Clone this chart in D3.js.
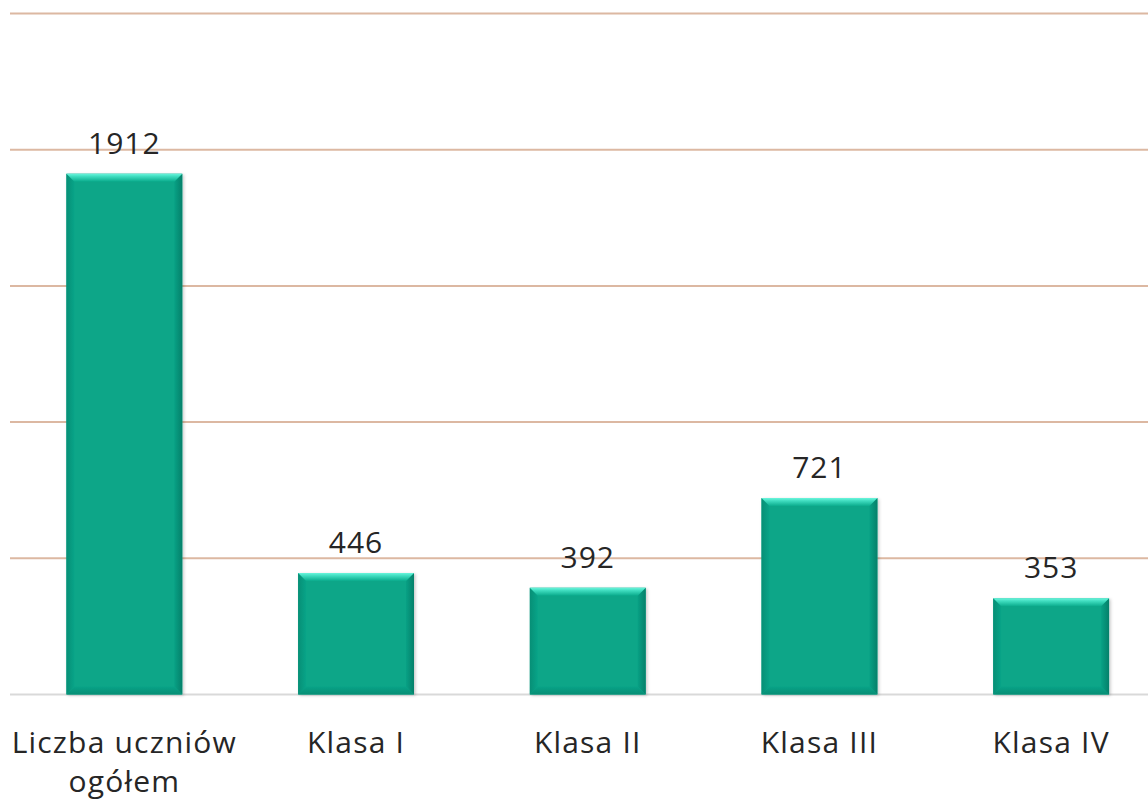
<!DOCTYPE html>
<html><head><meta charset="utf-8">
<script src="https://cdn.jsdelivr.net/npm/d3@7/dist/d3.min.js"></script>
<style>
html,body{margin:0;padding:0;background:#fff;}
svg{display:block;}
text{font-family:"Open Sans",sans-serif;fill:#262626;}
</style></head>
<body>
<svg id="chart" width="1148" height="804"></svg>
<script>
const categories = [["Liczba uczniów","ogółem"],["Klasa I"],["Klasa II"],["Klasa III"],["Klasa IV"]];
const values = [1912, 446, 392, 721, 353];
const yTicks = [0, 500, 1000, 1500, 2000, 2500];

const W = 1148, H = 804;
const svg = d3.select("#chart");
const x = d3.scaleBand().domain(d3.range(categories.length)).range([8.5, 1167]).paddingInner(0.5).paddingOuter(0.25);
const y = d3.scaleLinear().domain([0, 2500]).range([694.5, 13.5]);

const defs = svg.append("defs");
const f = defs.append("filter").attr("id","sh").attr("x","-10%").attr("y","-10%").attr("width","130%").attr("height","130%");
f.append("feDropShadow").attr("dx",1.5).attr("dy",1).attr("stdDeviation",1.5).attr("flood-color","#000").attr("flood-opacity",0.22);

function grad(id, x1,y1,x2,y2, stops){
  const g = defs.append("linearGradient").attr("id",id).attr("x1",x1).attr("y1",y1).attr("x2",x2).attr("y2",y2);
  stops.forEach(s=>g.append("stop").attr("offset",s[0]).attr("stop-color",s[1]).attr("stop-opacity",s[2]));
}
grad("gTop",0,0,0,1,[[0,"#6af5dc",1],[0.35,"#3fdcbf",1],[1,"#0aab8c",1]]);
grad("gLeft",0,0,1,0,[[0,"#078f76",1],[1,"#08a488",1]]);
grad("gRight",1,0,0,0,[[0,"#05806a",1],[1,"#08a185",1]]);
grad("gBot",0,1,0,0,[[0,"#078e75",1],[1,"#08a387",1]]);

// gridlines
svg.append("g").selectAll("line").data(yTicks.filter(d=>d>0)).join("line")
  .attr("x1",10).attr("x2",W).attr("y1",d=>y(d)).attr("y2",d=>y(d))
  .attr("stroke","#dcb8a2").attr("stroke-width",2);
// baseline
svg.append("line").attr("x1",10).attr("x2",W).attr("y1",y(0)).attr("y2",y(0))
  .attr("stroke","#d9d9d9").attr("stroke-width",2);

const bw = x.bandwidth(), b = 8;
const bars = svg.append("g").selectAll("g").data(values).join("g")
  .attr("transform",(d,i)=>`translate(${x(i)},${y(d)})`);
bars.each(function(d){
  const g = d3.select(this);
  const h = y(0) - y(d);
  g.append("rect").attr("width",bw).attr("height",h).attr("fill","#08a688").attr("filter","url(#sh)");
  g.append("path").attr("d",`M0,0 L${b},${b} L${b},${h-b} L0,${h} Z`).attr("fill","url(#gLeft)");
  g.append("path").attr("d",`M${bw},0 L${bw-b},${b} L${bw-b},${h-b} L${bw},${h} Z`).attr("fill","url(#gRight)");
  g.append("path").attr("d",`M0,${h} L${b},${h-b} L${bw-b},${h-b} L${bw},${h} Z`).attr("fill","url(#gBot)");
  g.append("path").attr("d",`M0,0 L${bw},0 L${bw-b},${b} L${b},${b} Z`).attr("fill","url(#gTop)");
});

// value labels
svg.append("g").selectAll("text").data(values).join("text")
  .attr("x",(d,i)=>x(i)+bw/2).attr("y",d=>y(d)-20)
  .attr("text-anchor","middle").attr("font-size",30).attr("letter-spacing",1).text(d=>d);

// category labels
const cl = svg.append("g").selectAll("text").data(categories).join("text")
  .attr("x",(d,i)=>x(i)+bw/2).attr("y",753).attr("text-anchor","middle")
  .attr("font-size",30).attr("letter-spacing",1.2);
cl.each(function(lines){
  const t = d3.select(this);
  lines.forEach((s,k)=>t.append("tspan").attr("x",t.attr("x")).attr("dy",k?39:0).text(s));
});
</script>
</body></html>
